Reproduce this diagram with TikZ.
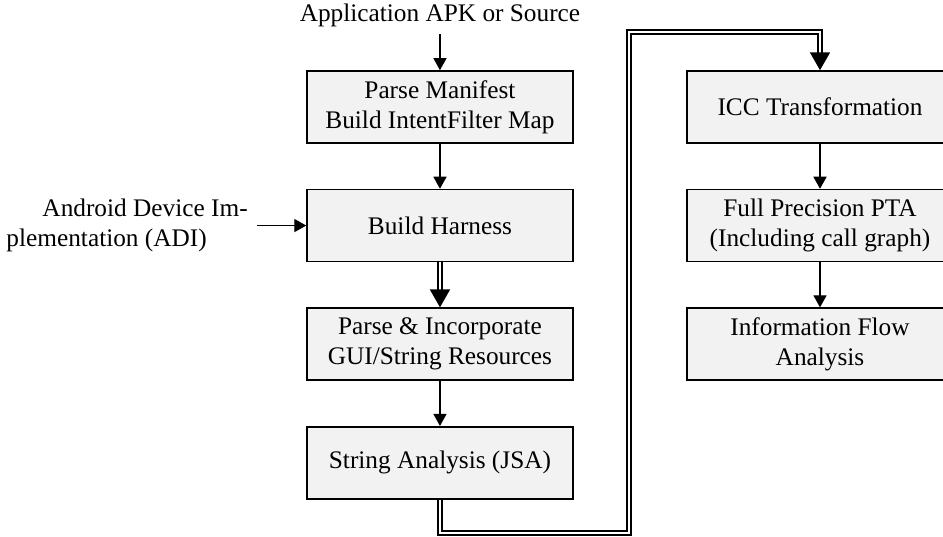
\documentclass[tikz,border=0pt]{standalone}
\usepackage{fontspec}
\setmainfont{Liberation Serif}
\usetikzlibrary{arrows.meta,positioning}
\definecolor{stagefill}{RGB}{242,242,242}

\begin{document}
\begin{tikzpicture}[
  font=\fontsize{12}{14.2}\selectfont,
  stage/.style={rectangle, draw=black, fill=stagefill, line width=0.75pt, minimum width=4.43cm, minimum height=1.2cm, align=center, inner sep=2pt},
  note/.style={align=left, inner xsep=0.15cm, inner ysep=0pt},
  flow/.style={-{Triangle[length=5.7pt,width=6.2pt]}, line width=0.6pt},
  dflow/.style={-{Triangle[length=8.5pt,width=9.5pt]}, double, double distance=1.2pt, line width=0.8pt}
]
\clip (0,0) rectangle (15.717,-8.95);

% Left column: front end
\node[stage] (manifest) at (7.333, -1.783) {Parse Manifest\\Build IntentFilter Map};
\node[stage, below=0.75cm of manifest] (harness) {Build Harness};
\node[stage, below=0.75cm of harness] (resources) {Parse \& Incorporate\\GUI/String Resources};
\node[stage, below=0.75cm of resources] (jsa) {String Analysis (JSA)};

% Right column: analysis
\node[stage] (icc) at (13.667, -1.783) {ICC Transformation};
\node[stage, below=0.75cm of icc] (pta) {Full Precision PTA\\(Including call graph)};
\node[stage, below=0.75cm of pta] (infoflow) {Information Flow\\Analysis};

% Inputs
\node[above=0.6cm of manifest] (apk) {Application APK or Source};
\node[note, left=0.82cm of harness] (adi) {\hspace*{0.6cm}Android Device Im-\\plementation (ADI)};

% Bends of the long connector
\coordinate (turnlow) at (10.483, -8.883);
\coordinate (turnhigh) at (10.483, -0.533);

% Connections
\draw[flow] (apk) -- (manifest);
\draw[flow] (manifest) -- (harness);
\draw[flow] (adi.east |- harness.west) -- (harness.west);
\draw[dflow] (harness) -- (resources);
\draw[flow] (resources) -- (jsa);
\draw[dflow] (jsa.south) |- (turnlow) -- (turnhigh) -| (icc.north);
\draw[flow] (icc) -- (pta);
\draw[flow] (pta) -- (infoflow);

\end{tikzpicture}
\end{document}
